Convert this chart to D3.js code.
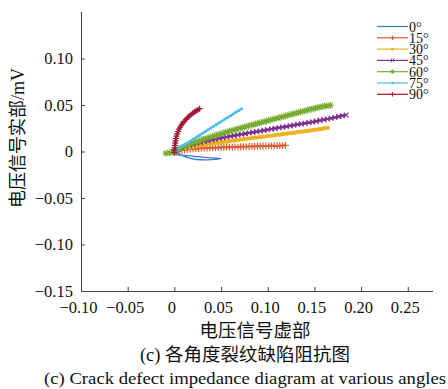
<!DOCTYPE html>
<html>
<head>
<meta charset="utf-8">
<script src="https://cdn.jsdelivr.net/npm/d3@7"></script>
<style>
  html, body { margin: 0; padding: 0; background: #fff; }
  svg { display: block; }
</style>
</head>
<body>
<svg id="chart" width="448" height="389"></svg>
<script>
// Impedance traces (real part vs. imaginary part of the voltage signal) per crack angle
const angles = ["0°", "15°", "30°", "45°", "60°", "75°", "90°"];
const colors = ["#3b7dd0", "#e05a2a", "#edb120", "#7e2f8e", "#77ac30", "#4dbeee", "#a2142f"];
const markers = ["none", "plus", "square", "cross", "star", "dot", "plus"];

const xTicks = [-0.10, -0.05, 0, 0.05, 0.10, 0.15, 0.20, 0.25];
const yTicks = [-0.15, -0.10, -0.05, 0, 0.05, 0.10];

// [imaginary part, real part] pairs
const s0 = [[0.000,0.000],[-0.004,-0.002],[-0.002,-0.0032],[0.006,-0.0038],[0.014,-0.0045],[0.022,-0.0052],
  [0.030,-0.006],[0.040,-0.0068],[0.050,-0.0075],[0.044,-0.0085],[0.034,-0.009],[0.024,-0.0086],
  [0.016,-0.0072],[0.010,-0.005],[0.005,-0.0025],[0.000,0.000]];
const s15 = [[0.002,0.000],[0.005,0.0008],[0.008,0.0013],[0.011,0.0018],[0.014,0.0022],[0.017,0.0025],
  [0.020,0.0028],[0.023,0.0030],[0.026,0.0032],[0.029,0.0034],[0.032,0.0036],[0.035,0.0037],[0.038,0.0039],
  [0.041,0.0040],[0.044,0.0041],[0.047,0.0042],[0.050,0.0044],[0.053,0.0045],[0.056,0.0046],[0.059,0.0047],
  [0.062,0.0048],[0.065,0.0049],[0.068,0.0050],[0.071,0.0051],[0.074,0.0052],[0.077,0.0053],[0.080,0.0054],
  [0.083,0.0055],[0.086,0.0056],[0.089,0.0057],[0.092,0.0058],[0.095,0.0059],[0.098,0.0059],[0.101,0.0060],
  [0.104,0.0061],[0.107,0.0062],[0.110,0.0062],[0.113,0.0063],[0.116,0.0064],[0.119,0.0065]];
const s30 = [[0.000,0.000],[0.004,0.0014],[0.008,0.0026],[0.012,0.0036],[0.016,0.0045],[0.020,0.0052],
  [0.024,0.0059],[0.028,0.0066],[0.032,0.0072],[0.036,0.0078],[0.040,0.0084],[0.044,0.0090],[0.048,0.0096],
  [0.052,0.0102],[0.056,0.0107],[0.060,0.0113],[0.064,0.0118],[0.068,0.0124],[0.072,0.0129],[0.076,0.0134],
  [0.080,0.0140],[0.084,0.0145],[0.088,0.0150],[0.092,0.0155],[0.096,0.0160],[0.100,0.0166],[0.104,0.0171],
  [0.108,0.0176],[0.112,0.0181],[0.116,0.0186],[0.120,0.0192],[0.124,0.0197],[0.128,0.0202],[0.132,0.0208],
  [0.136,0.0213],[0.140,0.0218],[0.144,0.0224],[0.148,0.0229],[0.152,0.0235],[0.156,0.0241],[0.160,0.0248],
  [0.164,0.0255]];
const s45 = [[0.000,0.000],[0.004,0.0020],[0.008,0.0037],[0.012,0.0052],[0.016,0.0065],[0.020,0.0077],
  [0.024,0.0088],[0.028,0.0098],[0.032,0.0107],[0.036,0.0116],[0.040,0.0125],[0.044,0.0133],[0.048,0.0141],
  [0.052,0.0149],[0.056,0.0157],[0.060,0.0164],[0.064,0.0171],[0.068,0.0178],[0.072,0.0185],[0.076,0.0192],
  [0.080,0.0199],[0.084,0.0206],[0.088,0.0213],[0.092,0.0220],[0.096,0.0227],[0.100,0.0234],[0.104,0.0241],
  [0.108,0.0248],[0.112,0.0255],[0.116,0.0262],[0.120,0.0269],[0.124,0.0276],[0.128,0.0283],[0.132,0.0290],
  [0.136,0.0297],[0.140,0.0304],[0.144,0.0311],[0.148,0.0318],[0.152,0.0326],[0.156,0.0334],[0.160,0.0342],
  [0.164,0.0350],[0.168,0.0358],[0.172,0.0366],[0.176,0.0375],[0.180,0.0384],[0.184,0.0393]];
const s60 = [[-0.009,-0.0020],[-0.005,-0.0012],[-0.001,-0.0003],[0.003,0.0015],[0.007,0.0035],[0.011,0.0055],
  [0.015,0.0072],[0.019,0.0088],[0.023,0.0103],[0.027,0.0117],[0.031,0.0131],[0.035,0.0144],[0.039,0.0157],
  [0.043,0.0170],[0.047,0.0182],[0.051,0.0194],[0.055,0.0206],[0.059,0.0218],[0.063,0.0229],[0.067,0.0241],
  [0.071,0.0252],[0.075,0.0263],[0.079,0.0274],[0.083,0.0285],[0.087,0.0296],[0.091,0.0307],[0.095,0.0318],
  [0.099,0.0329],[0.103,0.0340],[0.107,0.0351],[0.111,0.0361],[0.115,0.0372],[0.119,0.0383],[0.123,0.0394],
  [0.127,0.0404],[0.131,0.0415],[0.135,0.0425],[0.139,0.0436],[0.143,0.0446],[0.147,0.0456],[0.151,0.0466],
  [0.155,0.0475],[0.159,0.0484],[0.163,0.0490],[0.167,0.0496]];
const s75 = [[0.000,0.000],[0.003,0.0022],[0.006,0.0042],[0.009,0.0062],[0.012,0.0081],[0.015,0.0100],
  [0.018,0.0119],[0.021,0.0138],[0.024,0.0157],[0.027,0.0176],[0.030,0.0195],[0.033,0.0214],[0.036,0.0233],
  [0.039,0.0252],[0.042,0.0271],[0.045,0.0290],[0.048,0.0309],[0.051,0.0328],[0.054,0.0347],[0.057,0.0366],
  [0.060,0.0385],[0.063,0.0404],[0.066,0.0423],[0.069,0.0442],[0.072,0.0460]];
const s90 = [[0.000,-0.001],[0.000,0.0015],[0.0003,0.0040],[0.0006,0.0065],[0.0010,0.0090],[0.0013,0.0115],
  [0.0017,0.0140],[0.0023,0.0165],[0.0030,0.0190],[0.0040,0.0215],[0.0050,0.0240],[0.0062,0.0262],
  [0.0075,0.0284],[0.0090,0.0305],[0.0106,0.0325],[0.0123,0.0344],[0.0140,0.0362],[0.0158,0.0379],
  [0.0177,0.0395],[0.0196,0.0410],[0.0215,0.0424],[0.0234,0.0437],[0.0253,0.0449],[0.0270,0.0460]];
const seriesData = [s0, s15, s30, s45, s60, s75, s90];

const svg = d3.select("#chart");
const serif = "'Liberation Serif','Times New Roman',serif";
const cjk = "'Noto Sans CJK SC','Noto Sans',sans-serif";

const x = d3.scaleLinear().domain([-0.10, 0.277]).range([81, 433]);
const y = d3.scaleLinear().domain([-0.15, 0.15]).range([291, 12]);

const fmt = v => v === 0 ? "0" : d3.format(".2f")(v).replace("-", "\u2212");

// axes with inward ticks
const gx = svg.append("g").attr("transform", `translate(0,${y(-0.15)})`)
  .call(d3.axisBottom(x).tickValues(xTicks).tickSize(-4).tickPadding(10).tickFormat(fmt));
const gy = svg.append("g").attr("transform", `translate(${x(-0.10)},0)`)
  .call(d3.axisLeft(y).tickValues(yTicks).tickSize(-4).tickPadding(8).tickFormat(fmt));
[gx, gy].forEach(g => {
  g.select(".domain").attr("stroke", "#444").attr("stroke-width", 1);
  g.selectAll(".tick line").attr("stroke", "#444");
  g.selectAll(".tick text").attr("fill", "#111").style("font-family", serif).style("font-size", "16.5px");
});
gx.selectAll(".tick text").attr("dx", -3);
// plain spines without end caps
gx.select(".domain").attr("d", `M${x(-0.10)},0.5H${x(0.277)}`);
gy.select(".domain").attr("d", `M0.5,${y(-0.15)}V${y(0.15)}`);

// marker drawing
function drawMarker(g, type, cx, cy, color, s, w) {
  const sw = w || 1.2;
  if (type === "plus") {
    g.append("path").attr("d", `M${cx - s},${cy}H${cx + s}M${cx},${cy - s}V${cy + s}`)
      .attr("stroke", color).attr("stroke-width", sw).attr("fill", "none");
  } else if (type === "cross") {
    const d = s * 0.8;
    g.append("path").attr("d", `M${cx - d},${cy - d}L${cx + d},${cy + d}M${cx - d},${cy + d}L${cx + d},${cy - d}`)
      .attr("stroke", color).attr("stroke-width", sw).attr("fill", "none");
  } else if (type === "star") {
    const d = s * 0.75;
    g.append("path").attr("d", `M${cx - s},${cy}H${cx + s}M${cx},${cy - s}V${cy + s}M${cx - d},${cy - d}L${cx + d},${cy + d}M${cx - d},${cy + d}L${cx + d},${cy - d}`)
      .attr("stroke", color).attr("stroke-width", sw).attr("fill", "none");
  } else if (type === "square") {
    g.append("rect").attr("x", cx - s * 0.6).attr("y", cy - s * 0.6).attr("width", s * 1.2).attr("height", s * 1.2)
      .attr("fill", color).attr("stroke", color).attr("stroke-width", 0.8);
  } else if (type === "dot") {
    g.append("circle").attr("cx", cx).attr("cy", cy).attr("r", s * 0.55).attr("fill", color);
  }
}

const markerSize = [0, 3.4, 2.6, 3.0, 3.4, 2.8, 3.0];
const line = d3.line().x(d => x(d[0])).y(d => y(d[1])).curve(d3.curveCatmullRom);

const plot = svg.append("g");
seriesData.forEach((data, i) => {
  const g = plot.append("g");
  g.append("path").datum(data).attr("d", line)
    .attr("fill", "none").attr("stroke", colors[i]).attr("stroke-width", i === 0 ? 1.3 : 2)
    .attr("stroke-linejoin", "round");
  if (markers[i] !== "none") {
    data.forEach(d => drawMarker(g, markers[i], x(d[0]), y(d[1]), colors[i], markerSize[i]));
  }
});

// legend
const lg = svg.append("g");
angles.forEach((a, i) => {
  const ly = 26.5 + i * 11.3;
  lg.append("line").attr("x1", 377).attr("x2", 408).attr("y1", ly).attr("y2", ly)
    .attr("stroke", colors[i]).attr("stroke-width", 1.2);
  if (markers[i] !== "none") drawMarker(lg, markers[i], 392.5, ly, colors[i], markers[i] === "square" ? 1.6 : 2.2, 1);
  lg.append("text").attr("x", 409).attr("y", ly + 5).text(a)
    .style("font-family", serif).style("font-size", "14px").attr("fill", "#111");
});

// axis titles
svg.append("text").attr("x", 255).attr("y", 337).attr("text-anchor", "middle")
  .style("font-family", cjk).style("font-size", "18.5px").attr("fill", "#111")
  .text("电压信号虚部");

const yl = svg.append("text").attr("transform", "translate(24,138) rotate(-90)")
  .attr("text-anchor", "middle").attr("fill", "#111").style("font-size", "18px");
yl.append("tspan").style("font-family", cjk).text("电压信号实部");
yl.append("tspan").style("font-family", serif).text("/mV");

// captions
const c1 = svg.append("text").attr("x", 245).attr("y", 361).attr("text-anchor", "middle")
  .attr("fill", "#111").style("font-size", "18.5px");
c1.append("tspan").style("font-family", serif).text("(c) ");
c1.append("tspan").style("font-family", cjk).text("各角度裂纹缺陷阻抗图");

svg.append("text").attr("x", 245).attr("y", 384).attr("text-anchor", "middle")
  .attr("textLength", 402).attr("lengthAdjust", "spacingAndGlyphs")
  .style("font-family", serif).style("font-size", "17px").attr("fill", "#111")
  .text("(c) Crack defect impedance diagram at various angles");
</script>
</body>
</html>
